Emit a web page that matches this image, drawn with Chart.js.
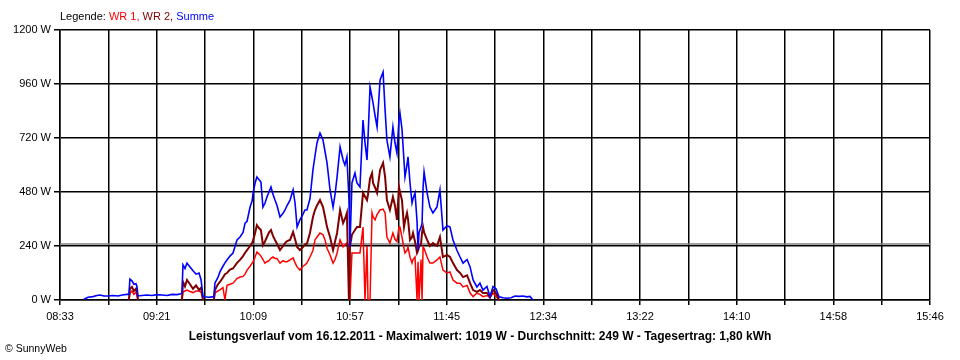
<!DOCTYPE html>
<html>
<head>
<meta charset="utf-8">
<script src="https://cdn.jsdelivr.net/npm/chart.js@4.4.1/dist/chart.umd.min.js"></script>
<style>
  html, body { margin: 0; padding: 0; background: #fff; }
  #wrap { position: relative; width: 960px; height: 360px; overflow: hidden; background: #fff; }
  #c { position: absolute; left: 0; top: 0; }
  .txt { position: absolute; font-family: "Liberation Sans", Arial, sans-serif; font-size: 11px; color: #000; white-space: nowrap; line-height: 13px; }
  #legend { left: 60px; top: 10px; }
  #title { left: 0; width: 960px; text-align: center; top: 330px; font-weight: bold; font-size: 12px; }
  #copy { left: 5px; top: 342px; font-size: 10.5px; }
</style>
</head>
<body>
<div id="wrap">
  <canvas id="c" width="960" height="360"></canvas>
  <div class="txt" id="legend">Legende: <span style="color:#ff0000">WR 1,</span> <span style="color:#800000">WR 2,</span> <span style="color:#0000ff">Summe</span></div>
  <div class="txt" id="title">Leistungsverlauf vom 16.12.2011 - Maximalwert: 1019 W - Durchschnitt: 249 W - Tagesertrag: 1,80 kWh</div>
  <div class="txt" id="copy">© SunnyWeb</div>
</div>
<script>
// Time axis: minutes after 08:33 (axis runs 08:33 .. 15:46 = 433 minutes)
const axisEndMinutes = 433;
const xTickLabels = ['08:33','','09:21','','10:09','','10:57','','11:45','','12:34','','13:22','','14:10','','14:58','','15:46'];
const yTickValues = [0, 240, 480, 720, 960, 1200];
const averageWatt = 249;

// sample times (minutes after 08:33)
const minutes = [
 11.9,13.9,16.4,18.4,19.9,21.9,23.9,26.4,28.9,30.9,33.3,34.3,34.8,35.8,36.8,37.8,38.3,38.8,
 40.8,43.3,45.8,48.3,50.8,53.3,55.7,58.2,60.2,60.7,61.2,62.2,63.2,64.7,66.2,67.7,69.2,70.2,71.2,
 72.7,74.2,75.7,76.6,77.1,78.6,79.6,81.1,82.1,83.1,84.6,86.1,88.1,89.6,91.1,92.1,93.1,94.6,95.6,
 96.1,97.1,98.0,99.0,100.0,101.0,102.0,103.0,104.0,105.0,106.0,107.0,108.0,109.5,111.0,112.0,
 113.0,114.5,116.0,117.0,118.0,119.4,120.9,121.9,122.9,124.4,125.9,126.9,127.9,129.4,130.9,131.9,
 132.9,134.4,135.9,136.9,137.9,139.4,140.9,141.8,142.8,143.8,144.3,145.3,146.8,147.8,149.3,150.8,
 151.8,152.8,153.3,154.3,155.3,155.8,156.8,157.8,159.3,160.8,161.8,162.7,164.2,165.7,166.7,167.7,
 168.7,169.2,170.2,171.2,171.7,172.7,173.2,174.2,175.2,175.7,176.7,177.7,178.2,178.7,179.7,180.2,
 180.7,181.2,182.7,184.1,185.6,187.6,189.1,190.6,192.6,194.1,195.6,197.6,199.1,200.6,202.6,204.1,
 205.6,207.5,209.0,210.5,212.5,214.0,215.5,217.0,218.5,220.5,222.5,224.5,226.5,228.4,230.4,232.4,
 233.9,235.4
];

// Summe (blue)
const summe = [
 3,12,15,20,22,18,18,20,18,22,25,25,93,85,70,72,60,18,
 20,22,20,24,22,20,25,24,28,30,156,140,164,147,130,115,120,90,14,
 13,12,14,15,75,100,125,150,165,178,195,209,267,280,300,342,350,413,440,
 476,520,547,535,524,413,430,458,480,502,470,444,420,369,385,400,
 420,444,489,430,324,356,380,400,400,450,578,640,698,742,711,660,
 609,489,413,470,547,680,622,600,636,450,236,520,564,520,502,800,
 700,622,720,947,900,876,820,769,978,1013,844,711,636,769,700,653,
 800,831,760,620,547,600,636,520,431,450,476,350,222,300,324,340,
 500,569,476,413,387,413,489,311,330,324,267,220,191,164,180,147,
 89,58,75,44,60,13,60,50,14,10,8,10,18,16,18,14,
 16,0
];

// WR 2 (dark red)
const wr2 = [
 null,null,null,null,null,null,null,null,null,null,null,0,50,58,40,50,35,0,
 null,null,null,null,null,null,null,null,null,0,80,60,89,70,50,65,45,55,0,
 null,null,null,0,44,70,80,100,115,120,135,140,165,178,195,210,222,240,253,
 265,298,333,320,311,244,260,280,300,311,285,267,250,222,240,253,
 262,267,302,270,236,222,235,247,250,298,369,400,420,444,413,370,
 324,280,222,260,298,400,342,360,387,0,236,290,311,324,324,476,
 460,444,470,540,564,520,500,476,578,609,547,444,400,458,420,356,
 502,480,444,324,350,387,360,267,280,298,260,209,220,236,250,300,
 324,300,267,240,253,240,280,191,200,191,164,133,120,102,110,75,
 44,36,44,31,31,13,44,31,0,null,null,null,null,null,null,null,
 null,null
];

// WR 1 (red)
const wr1 = [
 null,null,null,null,null,null,null,null,null,null,null,0,30,40,25,35,22,0,
 null,null,null,null,null,null,null,null,null,0,35,40,44,38,33,40,40,35,0,
 null,null,null,0,31,40,45,55,0,65,70,75,95,102,105,115,133,150,164,
 170,191,213,205,195,180,164,170,175,185,191,185,185,164,175,170,
 170,178,187,165,147,133,150,156,164,191,220,267,280,298,290,267,
 230,200,164,180,209,267,236,245,253,240,0,209,209,209,209,324,
 0,240,0,0,387,370,356,380,400,404,387,280,253,298,270,260,
 324,324,280,230,209,220,236,190,164,180,191,0,170,0,180,0,
 236,230,191,164,164,178,191,133,120,125,89,75,75,58,65,31,
 15,31,25,15,20,10,31,15,0,null,null,null,null,null,null,null,
 null,null
];

const xTickValues = xTickLabels.map((_, i) => i * axisEndMinutes / (xTickLabels.length - 1));
const pts = arr => minutes.map((m, i) => ({ x: m, y: arr[i] }));
const FONT = { family: '"Liberation Sans", Arial, sans-serif', size: 11 };

new Chart(document.getElementById('c'), {
  type: 'line',
  data: {
    datasets: [
      { label: 'Summe', data: pts(summe), borderColor: '#0000ff', borderWidth: 1.6, pointRadius: 0, tension: 0, order: 0 },
      { label: 'WR 2', data: pts(wr2), borderColor: '#800000', borderWidth: 2, pointRadius: 0, tension: 0, order: 1 },
      { label: 'WR 1', data: pts(wr1), borderColor: '#ff0000', borderWidth: 1.5, pointRadius: 0, tension: 0, order: 2 },
      { label: 'Durchschnitt', data: [{ x: 0, y: averageWatt }, { x: axisEndMinutes, y: averageWatt }], borderColor: '#808080', borderWidth: 1.5, pointRadius: 0, order: 3 }
    ]
  },
  options: {
    responsive: false,
    animation: false,
    spanGaps: false,
    layout: { padding: { top: 30, right: 30, left: 0, bottom: 0 } },
    plugins: { legend: { display: false }, tooltip: { enabled: false } },
    scales: {
      x: {
        type: 'linear', min: 0, max: axisEndMinutes,
        afterBuildTicks: s => { s.ticks = xTickValues.map(v => ({ value: v })); },
        afterFit: s => { s.height = 60; },
        ticks: { autoSkip: false, maxRotation: 0, font: FONT, color: '#000', padding: 5,
                 callback: (v, i) => xTickLabels[i] },
        grid: { color: '#000', lineWidth: 1.5, tickLength: 5 },
        border: { color: '#000', width: 1.5 }
      },
      y: {
        min: 0, max: 1200,
        afterBuildTicks: s => { s.ticks = yTickValues.map(v => ({ value: v })); },
        afterFit: s => { s.width = 60; },
        ticks: { font: FONT, color: '#000', padding: 3, callback: v => v + ' W' },
        grid: { color: '#000', lineWidth: 1.5, tickLength: 6 },
        border: { color: '#000', width: 1.5 }
      }
    }
  }
});
</script>
</body>
</html>
